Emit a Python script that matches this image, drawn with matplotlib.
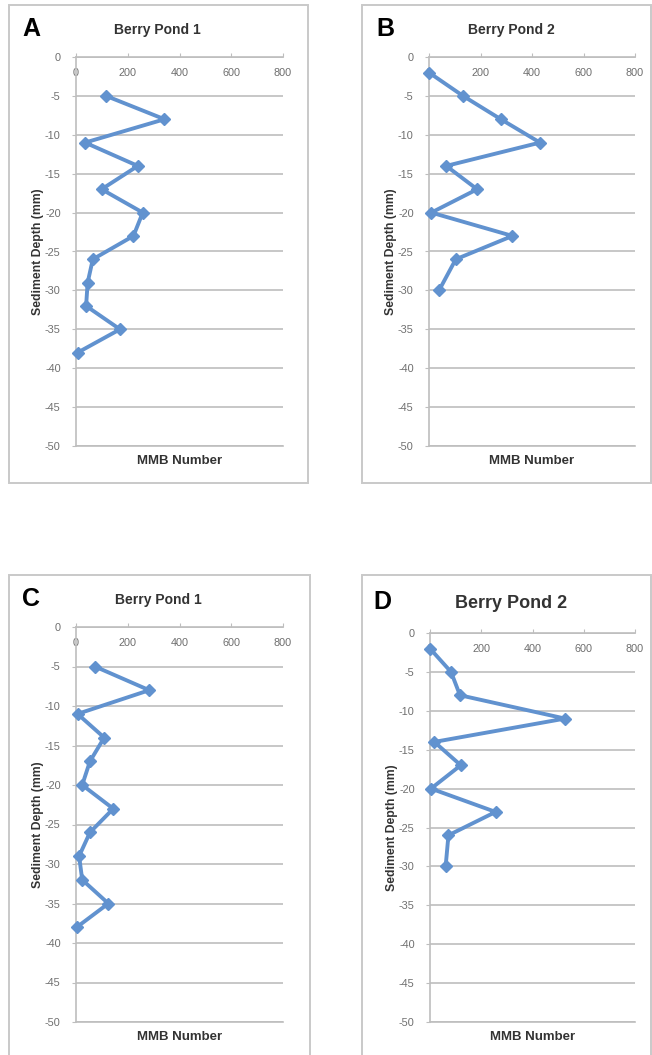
import matplotlib
matplotlib.use("Agg")
import matplotlib.pyplot as plt
from matplotlib.patches import Rectangle

plt.rcParams['font.family'] = ['Liberation Sans', 'DejaVu Sans']

# ---- data ----
depth_A = [-5, -8, -11, -14, -17, -20, -23, -26, -29, -32, -35, -38]
mmb_A = [116, 342, 35, 239, 99, 258, 222, 65, 45, 39, 170, 6]
depth_B = [-2, -5, -8, -11, -14, -17, -20, -23, -26, -30]
mmb_B = [0, 132, 279, 431, 67, 187, 9, 324, 104, 39]
depth_C = [-5, -8, -11, -14, -17, -20, -23, -26, -29, -32, -35, -38]
mmb_C = [73, 283, 6, 109, 54, 24, 144, 54, 12, 24, 125, 3]
depth_D = [-2, -5, -8, -11, -14, -17, -20, -23, -26, -30]
mmb_D = [0, 82, 117, 527, 17, 120, 4, 256, 72, 61]

x_ticks = [0, 200, 400, 600, 800]
y_ticks = [0, -5, -10, -15, -20, -25, -30, -35, -40, -45, -50]
titles = ["Berry Pond 1", "Berry Pond 2", "Berry Pond 1", "Berry Pond 2"]
letters = ["A", "B", "C", "D"]
xlabel = "MMB Number"
ylabel = "Sediment Depth (mm)"

W, H = 652, 1055
fig = plt.figure(figsize=(W / 100, H / 100), dpi=100)
fig.patch.set_facecolor('white')

def fx(px):
    return px / W

def fy(py):
    return 1 - py / H

# panel layout in pixels
panels = [
    dict(frame=(9, 5, 308, 483), ax=(76, 57, 283, 446), letter=(22, 29), title=(157, 30, 10)),
    dict(frame=(362, 5, 651, 483), ax=(429, 57, 635, 446), letter=(376, 29), title=(511, 30, 10)),
    dict(frame=(9, 575, 310, 1060), ax=(76, 627, 283, 1022), letter=(22, 599), title=(158, 600, 10)),
    dict(frame=(362, 575, 651, 1060), ax=(430, 633, 635, 1022), letter=(373, 602), title=(511, 603, 13)),
]
series = [(mmb_A, depth_A), (mmb_B, depth_B), (mmb_C, depth_C), (mmb_D, depth_D)]

grid_c = '#BEBEBE'
tick_c = '#6E6E6E'
line_c = '#6192CF'

for i, p in enumerate(panels):
    fl, ft, fr, fb = p['frame']
    fig.patches.append(Rectangle((fx(fl), fy(fb)), fx(fr) - fx(fl), fy(ft) - fy(fb),
                                 transform=fig.transFigure, fill=False,
                                 edgecolor='#C9C9C9', linewidth=1.4))
    al, at, ar, ab = p['ax']
    ax = fig.add_axes([fx(al), fy(ab), fx(ar) - fx(al), fy(at) - fy(ab)])
    x, y = series[i]
    ax.plot(x, y, color=line_c, linewidth=2.8, marker='D', markersize=6.5,
            markerfacecolor=line_c, markeredgecolor=line_c, clip_on=False, zorder=5)
    ax.set_xlim(0, 800)
    ax.set_ylim(-50, 0)
    ax.set_yticks(y_ticks)
    ax.set_yticklabels([str(v) for v in y_ticks])
    ax.xaxis.tick_top()
    ax.set_xticks(x_ticks)
    ax.set_xticklabels([str(v) for v in x_ticks])
    ax.tick_params(axis='x', which='both', top=True, bottom=False, labeltop=True,
                   labelbottom=False, direction='out', length=3, width=0.8,
                   color=grid_c, labelsize=7.8, labelcolor=tick_c, pad=-11)
    for lbl in ax.get_xticklabels():
        lbl.set_va('top')
    ax.tick_params(axis='y', direction='out', length=3, width=0.8, color=grid_c,
                   labelsize=7.8, labelcolor=tick_c, pad=8)
    ax.spines['right'].set_visible(False)
    for s in ['left', 'top', 'bottom']:
        ax.spines[s].set_color(grid_c)
        ax.spines[s].set_linewidth(1.2)
    ax.yaxis.grid(True, color=grid_c, linewidth=1.2)
    ax.set_axisbelow(True)
    ax.xaxis.set_label_position('bottom')
    ax.set_xlabel(xlabel, fontsize=9.5, fontweight='bold', color='#333333')
    ax.xaxis.set_label_coords(0.5, -9 / (ab - at))
    ax.set_ylabel(ylabel, fontsize=8.8, fontweight='bold', color='#333333')
    ax.yaxis.set_label_coords(-32 / (ar - al), 0.5)

    lx, ly = p['letter']
    fig.text(fx(lx), fy(ly), letters[i], fontsize=18, fontweight='bold',
             ha='left', va='center', color='black')
    tx, ty, ts = p['title']
    fig.text(fx(tx), fy(ty), titles[i], fontsize=ts, fontweight='bold',
             ha='center', va='center', color='#333333')

fig.savefig('out.png', dpi=100, facecolor='white')
